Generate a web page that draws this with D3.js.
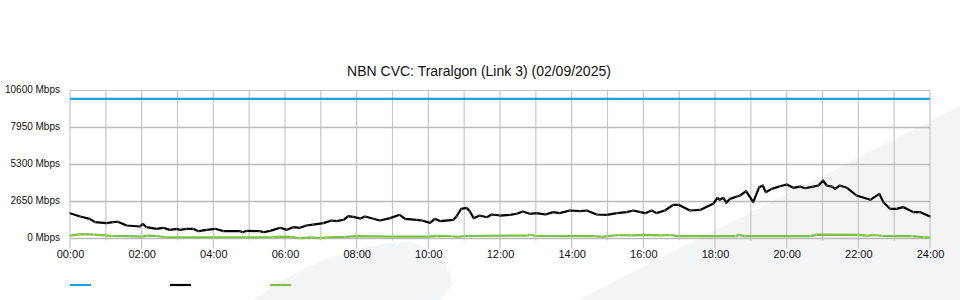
<!DOCTYPE html>
<html>
<head>
<meta charset="utf-8">
<script src="https://cdn.jsdelivr.net/npm/d3@7"></script>
<style>
  body { margin: 0; background: #fff; }
  svg { display: block; font-family: "Liberation Sans", Arial, sans-serif; }
</style>
</head>
<body>
<div id="chart"></div>
<script>
const title = 'NBN CVC: Traralgon (Link 3) (02/09/2025)';

const yTicks = [0, 2650, 5300, 7950, 10600];
const xTickLabels = ['00:00', '02:00', '04:00', '06:00', '08:00', '10:00', '12:00',
    '14:00', '16:00', '18:00', '20:00', '22:00', '24:00'];

// capacity line
const capacityTimes = ['00:00', '24:00'];
const capacityValues = [10000, 10000];

// black: traffic
const trafficTimes = ['00:00', '00:17', '00:33', '00:42', '01:01', '01:12', '01:20', '01:35', '01:57',
    '02:02', '02:08', '02:25', '02:36', '02:47', '02:59', '03:04', '03:15', '03:26', '03:35', '03:49',
    '04:03', '04:17', '04:45', '04:49', '04:56', '05:18', '05:24', '05:35', '05:52', '06:03', '06:14',
    '06:25', '06:36', '06:47', '07:04', '07:18', '07:27', '07:38', '07:46', '07:54', '08:06', '08:14',
    '08:28', '08:39', '08:56', '09:12', '09:21', '09:40', '09:49', '10:03', '10:11', '10:20', '10:42',
    '10:47', '10:55', '11:04', '11:09', '11:16', '11:26', '11:38', '11:46', '12:00', '12:17', '12:28',
    '12:38', '12:50', '13:01', '13:16', '13:29', '13:40', '13:57', '14:14', '14:25', '14:42', '14:59',
    '15:16', '15:32', '15:43', '15:55', '16:03', '16:14', '16:22', '16:36', '16:50', '16:59', '17:18',
    '17:35', '17:57', '18:04', '18:08', '18:14', '18:19', '18:25', '18:37', '18:42', '18:52', '19:04',
    '19:14', '19:20', '19:25', '19:35', '19:49', '20:00', '20:11', '20:22', '20:31', '20:44', '20:53',
    '21:01', '21:07', '21:16', '21:21', '21:29', '21:41', '21:57', '22:20', '22:35', '22:42', '22:53',
    '23:04', '23:15', '23:32', '23:43', '24:00'];
const trafficValues = [1810, 1575, 1410, 1170, 1100, 1170, 1200, 930, 860,
    1050, 810, 695, 765, 620, 690, 620, 695, 695, 525, 620,
    695, 525, 525, 450, 550, 525, 450, 550, 765, 620, 810,
    765, 930, 1000, 1100, 1290, 1240, 1340, 1600, 1550, 1430, 1575,
    1410, 1290, 1460, 1695, 1410, 1340, 1290, 1120, 1410, 1240, 1340,
    1575, 2125, 2195, 1980, 1455, 1645, 1525, 1720, 1645, 1695, 1770,
    1935, 1770, 1815, 1720, 1890, 1815, 2005, 1960, 2005, 1720, 1695,
    1815, 1890, 2005, 1890, 1815, 2005, 1815, 2005, 2410, 2410, 2005,
    2050, 2485, 2915, 2770, 2915, 2555, 2840, 3010, 3080, 3390, 2600,
    3675, 3795, 3315, 3555, 3745, 3870, 3630, 3720, 3600, 3720, 3795,
    4155, 3795, 3720, 3555, 3795, 3630, 3080, 2770, 3200, 2600, 2125,
    2125, 2250, 1890, 1890, 1575];

// green: upstream
const upTimes = ['00:00', '00:15', '00:25', '00:40', '01:00', '01:10', '01:40', '02:00', '02:10',
    '02:25', '02:40', '04:00', '05:40', '05:50', '06:10', '06:25', '06:45', '07:00', '07:10', '07:40',
    '08:00', '09:00', '10:00', '10:15', '10:40', '10:50', '11:00', '12:45', '12:50', '13:00', '14:40',
    '14:50', '15:00', '15:20', '15:40', '16:00', '16:30', '16:45', '17:00', '18:35', '18:40', '18:50',
    '20:40', '20:50', '22:00', '22:15', '22:30', '22:40', '23:30', '23:50', '24:00'];
const upValues = [200, 300, 320, 280, 220, 180, 170, 130, 200,
    180, 90, 90, 90, 140, 110, 20, 80, 20, 90, 120,
    170, 140, 140, 190, 160, 120, 180, 210, 270, 180, 170,
    110, 170, 250, 230, 260, 220, 250, 170, 170, 260, 170,
    170, 280, 260, 210, 250, 180, 170, 90, 80];

const legendColors = ['#1ba1e2', '#000000', '#7dc142'];

const W = 960, H = 300;
const plot = { left: 70, right: 930, top: 90.5, bottom: 238.5 };

const toMin = t => { const [h, m] = t.split(':').map(Number); return h * 60 + m; };

const svg = d3.select('#chart').append('svg')
    .attr('width', W).attr('height', H);

// background swooshes
svg.append('path')
    .attr('d', 'M253,300 Q330,244 410,242 Q450,254 452,285 L440,300 Z')
    .attr('fill', '#f3f4f6');
svg.append('path')
    .attr('d', 'M578,300 L960,106 L960,300 Z')
    .attr('fill', '#f3f4f6');

const x = d3.scaleLinear().domain([0, 1440]).range([plot.left, plot.right]);
const y = d3.scaleLinear().domain([0, 10600]).range([plot.bottom, plot.top]);

// title
svg.append('text')
    .attr('x', 479).attr('y', 76)
    .attr('text-anchor', 'middle')
    .style('font-size', '14px')
    .attr('fill', '#111')
    .text(title);

// vertical grid, every hour
const hours = d3.range(0, 1441, 60);
svg.append('g').selectAll('line').data(hours).join('line')
    .attr('x1', d => x(d)).attr('x2', d => x(d))
    .attr('y1', plot.top)
    .attr('y2', d => d % 120 === 0 ? plot.bottom + 10 : plot.bottom + 2)
    .attr('stroke', '#c6c6c6').attr('stroke-width', 1.2);

// horizontal grid
svg.append('g').selectAll('line').data(yTicks).join('line')
    .attr('x1', plot.left).attr('x2', plot.right)
    .attr('y1', d => y(d)).attr('y2', d => y(d))
    .attr('stroke', d => d === 10600 ? '#c6c6c6' : '#bbbbbb')
    .attr('stroke-width', d => d === 10600 ? 1.2 : 1.6);

// y labels
svg.append('g').selectAll('text').data(yTicks).join('text')
    .attr('x', 60).attr('y', d => y(d) + 2)
    .attr('text-anchor', 'end')
    .style('font-size', '10px')
    .attr('fill', '#111')
    .text(d => `${d} Mbps`);

// x labels
const xAxis = d3.axisBottom(x)
    .tickValues(d3.range(0, 1441, 120))
    .tickFormat((d, i) => xTickLabels[i])
    .tickSize(0).tickPadding(12);
const gx = svg.append('g').attr('transform', `translate(0,${plot.bottom})`).call(xAxis);
gx.select('.domain').remove();
gx.selectAll('text').style('font-size', '11px').attr('fill', '#111')
    .style('font-family', '"Liberation Sans", Arial, sans-serif');

const line = d3.line().x(d => x(d[0])).y(d => y(d[1]));

function drawSeries(times, values, color, markerColor) {
    const data = times.map((t, i) => [toMin(t), values[i]]);
    svg.append('path').datum(data)
        .attr('d', line)
        .attr('fill', 'none')
        .attr('stroke', color)
        .attr('stroke-width', 2.2)
        .attr('stroke-linejoin', 'round');
    if (markerColor) {
        svg.append('g').selectAll('circle').data(data).join('circle')
            .attr('cx', d => x(d[0])).attr('cy', d => y(d[1]))
            .attr('r', 0.9).attr('fill', markerColor);
    }
}

drawSeries(upTimes, upValues, legendColors[2], '#a5d672');
drawSeries(trafficTimes, trafficValues, legendColors[1], '#555');
drawSeries(capacityTimes, capacityValues, legendColors[0], null);

// legend (no labels)
svg.append('g').selectAll('line').data(legendColors).join('line')
    .attr('x1', (d, i) => 70 + i * 100).attr('x2', (d, i) => 91 + i * 100)
    .attr('y1', 285).attr('y2', 285)
    .attr('stroke', d => d).attr('stroke-width', 2.2);
</script>
</body>
</html>
